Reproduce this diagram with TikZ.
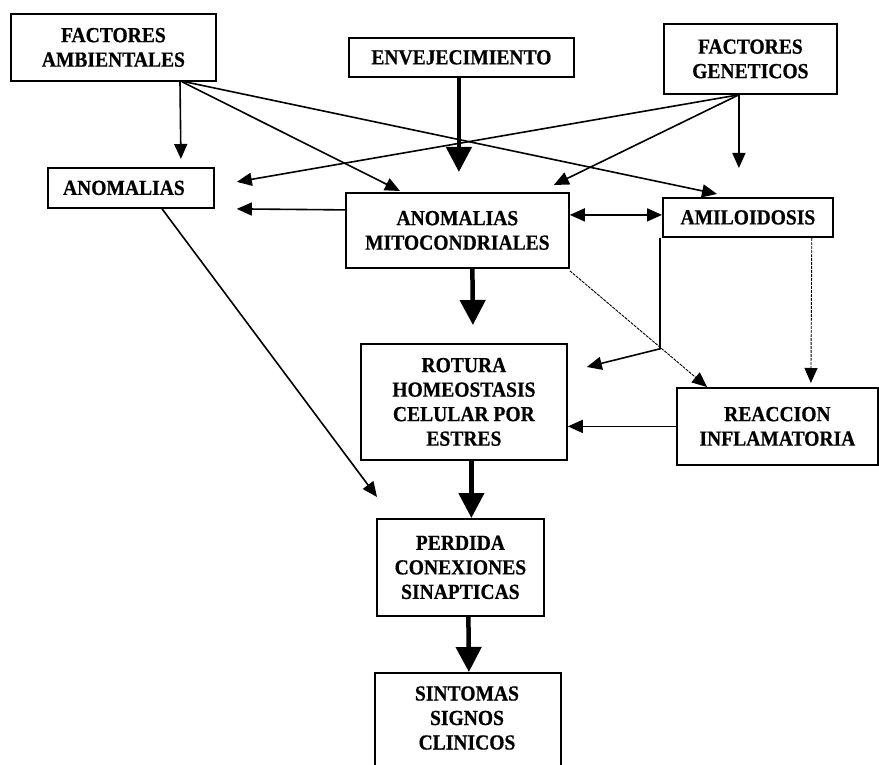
\documentclass[tikz,border=0pt]{standalone}
\usepackage{fontspec}
\setmainfont{Liberation Serif}[FakeStretch=0.91,FakeBold=0.6]
\usetikzlibrary{arrows.meta}
\begin{document}
\begin{tikzpicture}[x=1pt,y=-1pt,
  box/.style={draw, line width=1.8pt, anchor=north west, inner sep=0pt,
    align=center, font=\bfseries\fontsize{21.5}{24.5}\selectfont},
  label text/.style={inner sep=0pt, align=center, font=\bfseries\fontsize{21.5}{24.5}\selectfont},
  thinarrow/.style={line width=1.6pt, -{Triangle[length=15pt,width=13pt]}},
  thickarrow/.style={line width=4.5pt, -{Triangle[length=25pt,width=25pt]}},
  faintarrow/.style={line width=0.9pt, dash pattern=on 3pt off 1pt, -{Triangle[length=15pt,width=13pt]}},
  bothways/.style={line width=1.6pt, {Triangle[length=15pt,width=13pt]}-{Triangle[length=15pt,width=13pt]}}]
\useasboundingbox[fill=white] (0,0) rectangle (879,765);

% boxes
\node[box, minimum width=205pt, minimum height=67pt] (fa) at (10,13) {FACTORES\\AMBIENTALES};
\node[box, minimum width=225pt, minimum height=39pt] (env) at (348,37) {ENVEJECIMIENTO};
\node[box, minimum width=173pt, minimum height=70pt] (fg) at (663,23) {FACTORES\\GENETICOS};
\node[box, minimum width=166pt, minimum height=40pt] (anom) at (47,167) {ANOMALIAS\hspace*{14pt}};
\node[box, minimum width=223pt, minimum height=75pt] (am) at (345,192) {ANOMALIAS\\MITOCONDRIALES};
\node[box, minimum width=170pt, minimum height=39pt] (ami) at (662,197) {AMILOIDOSIS};
\node[box, minimum width=206pt, minimum height=116pt] (rot) at (360,343) {ROTURA\\HOMEOSTASIS\\CELULAR POR\\ESTRES};
\node[box, minimum width=201pt, minimum height=77pt] (rea) at (676,387) {REACCION\\INFLAMATORIA};
\node[box, minimum width=167pt, minimum height=97pt] (per) at (376,518) {PERDIDA\\CONEXIONES\\SINAPTICAS};
\node[box, minimum width=186pt, minimum height=120pt] (sinbox) at (374,672) {};
\node[label text] (sin) at (467,718) {SINTOMAS\\SIGNOS\\CLINICOS};

% connectors from the three sources
\draw[thinarrow] ([xshift=170pt]fa.south west) -- ([xshift=50pt,yshift=8pt]anom.north);
\draw[thinarrow] ([xshift=172pt]fa.south west) -- ([xshift=55pt,yshift=1pt]am.north west);
\draw[thinarrow] ([xshift=175pt]fa.south west) -- ([xshift=55pt,yshift=3pt]ami.north west);
\draw[thickarrow] ([xshift=-2.5pt]env.south) -- ([xshift=1.5pt,yshift=20pt]am.north);
\draw[thinarrow] ([xshift=-11.5pt]fg.south) -- ([xshift=22pt,yshift=6pt]anom.east);
\draw[thinarrow] ([xshift=-11.5pt]fg.south) -- ([xshift=-16pt,yshift=7pt]am.north east);
\draw[thinarrow] ([xshift=-11.5pt]fg.south) -- ([xshift=-9pt,yshift=29pt]ami.north);

% middle layer
\draw[thinarrow] ([yshift=20.5pt]am.west) -- ([xshift=22pt,yshift=-21pt]anom.east);
\draw[bothways] ([yshift=15.5pt]am.east) -- ([yshift=2.5pt]ami.west);
\draw[thickarrow] ([xshift=15pt]am.south) -- ([xshift=9pt,yshift=18pt]rot.north);
\draw[faintarrow] ([yshift=-2pt]am.south east) -- ([xshift=31pt]rea.north west);
\draw[thinarrow] ([xshift=-2pt]ami.south west) -- ++(0,111) -- ([xshift=19pt,yshift=-24pt]rot.north east);
\draw[faintarrow] ([xshift=-22pt]ami.south east) -- ([xshift=33.5pt,yshift=4pt]rea.north);
\draw[thinarrow] (rea.west) -- ([yshift=-24.5pt]rot.east);

% lower chain
\draw[thinarrow] ([xshift=115pt]anom.south west) -- ([xshift=1pt,yshift=21pt]per.north west);
\draw[thickarrow] ([xshift=7.5pt]rot.south) -- ([xshift=11pt]per.north);
\draw[thickarrow] ([xshift=8pt]per.south) -- ([xshift=1pt]sinbox.north);
\end{tikzpicture}
\end{document}
